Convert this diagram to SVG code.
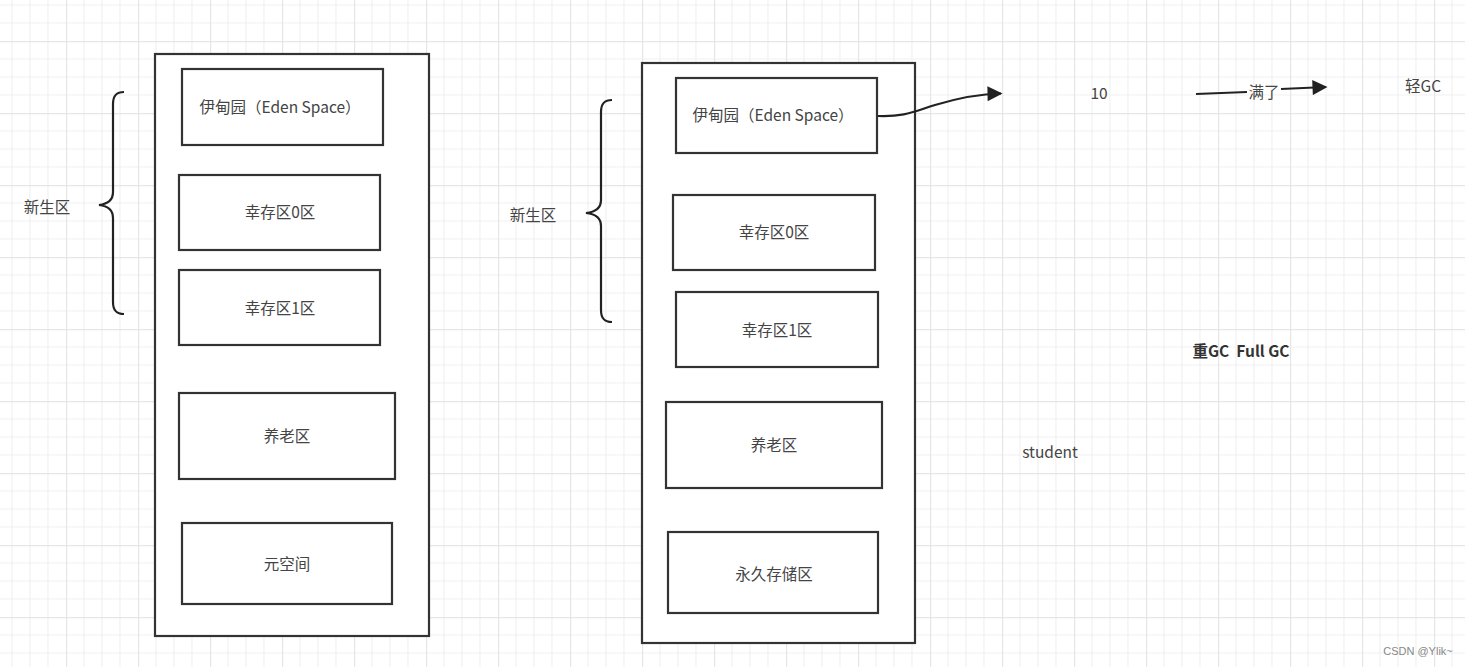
<svg xmlns="http://www.w3.org/2000/svg" width="1465" height="667" viewBox="0 0 1465 667">
<defs>
<pattern id="grid" x="66" y="41" width="72" height="72" patternUnits="userSpaceOnUse">
<path d="M18 0V72M36 0V72M54 0V72M0 18H72M0 36H72M0 54H72" stroke="#f1f1f1" stroke-width="1.2" fill="none"/>
<path d="M0.5 0V72M0 0.5H72" stroke="#e6e6e6" stroke-width="1.4" fill="none"/>
</pattern>
<marker id="arr" viewBox="0 0 10 10" refX="9" refY="5" markerWidth="22" markerHeight="15" markerUnits="userSpaceOnUse" orient="auto">
<path d="M0 0L10 5L0 10Z" fill="#222"/>
</marker>
<style>
.box{fill:#fff;stroke:#333;stroke-width:2.2}
.t{font-family:"Noto Sans CJK SC","Liberation Sans",sans-serif;font-size:15.5px;fill:#444;text-anchor:middle;dominant-baseline:central;white-space:pre}
.line{fill:none;stroke:#222;stroke-width:2.2}
.brace{fill:none;stroke:#222;stroke-width:2.2}
</style>
</defs>
<rect width="1465" height="667" fill="#fff"/>
<rect width="1465" height="667" fill="url(#grid)"/>

<g id="heap-left">
<rect class="box" x="155" y="54" width="274" height="582"/>
</g>
<g id="eden-left"><rect class="box" x="182" y="69" width="201" height="76"/><text class="t" x="280" y="106">伊甸园（Eden Space）</text></g>
<g id="s0-left"><rect class="box" x="179" y="175" width="201" height="75"/><text class="t" x="280" y="211">幸存区0区</text></g>
<g id="s1-left"><rect class="box" x="179" y="270" width="201" height="75"/><text class="t" x="280" y="307">幸存区1区</text></g>
<g id="old-left"><rect class="box" x="179" y="393" width="216" height="86"/><text class="t" x="287" y="435">养老区</text></g>
<g id="meta-left"><rect class="box" x="182" y="523" width="210" height="81"/><text class="t" x="287" y="563">元空间</text></g>
<g id="young-left"><path class="brace" d="M124 92C116 92 113 96 113 104V192C113 200 108 204 99 205C108 206 113 210 113 218V302C113 310 116 314 124 314"/><text class="t" x="47" y="206">新生区</text></g>

<g id="heap-right">
<rect class="box" x="642" y="63" width="273" height="580"/>
</g>
<g id="eden-right"><rect class="box" x="676" y="78" width="201" height="75"/><text class="t" x="773" y="114">伊甸园（Eden Space）</text></g>
<g id="s0-right"><rect class="box" x="673" y="195" width="202" height="75"/><text class="t" x="774" y="231">幸存区0区</text></g>
<g id="s1-right"><rect class="box" x="676" y="292" width="202" height="75"/><text class="t" x="777" y="329">幸存区1区</text></g>
<g id="old-right"><rect class="box" x="666" y="402" width="216" height="86"/><text class="t" x="774" y="444">养老区</text></g>
<g id="perm-right"><rect class="box" x="668" y="532" width="210" height="81"/><text class="t" x="774" y="573">永久存储区</text></g>
<g id="young-right"><path class="brace" d="M612 100C604 100 601 104 601 112V200C601 208 596 212 586 213C596 214 601 218 601 226V310C601 318 604 322 612 322"/><text class="t" x="533" y="214">新生区</text></g>

<g id="n-10"><text class="t" x="1099" y="92">10</text></g>
<g id="n-minor"><text class="t" x="1423" y="85">轻GC</text></g>
<g id="n-full"><text class="t" x="1241" y="350" style="font-weight:bold;fill:#333">重GC  Full GC</text></g>
<g id="n-student"><text class="t" x="1050" y="451">student</text></g>

<g id="connectors">
<path class="line" d="M878 116C905 117 915 111 935 105C955 99 975 94 1001 93.5" marker-end="url(#arr)"/>
<path class="line" d="M1196 94L1247 92"/>
<path class="line" d="M1281 89L1326 87" marker-end="url(#arr)"/>
<text class="t" x="1264" y="91">满了</text>
</g>

<text x="1418" y="651" style="font-family:'Liberation Sans',sans-serif;font-size:11px;fill:#888;text-anchor:middle;dominant-baseline:central">CSDN @Ylik~</text>
</svg>
